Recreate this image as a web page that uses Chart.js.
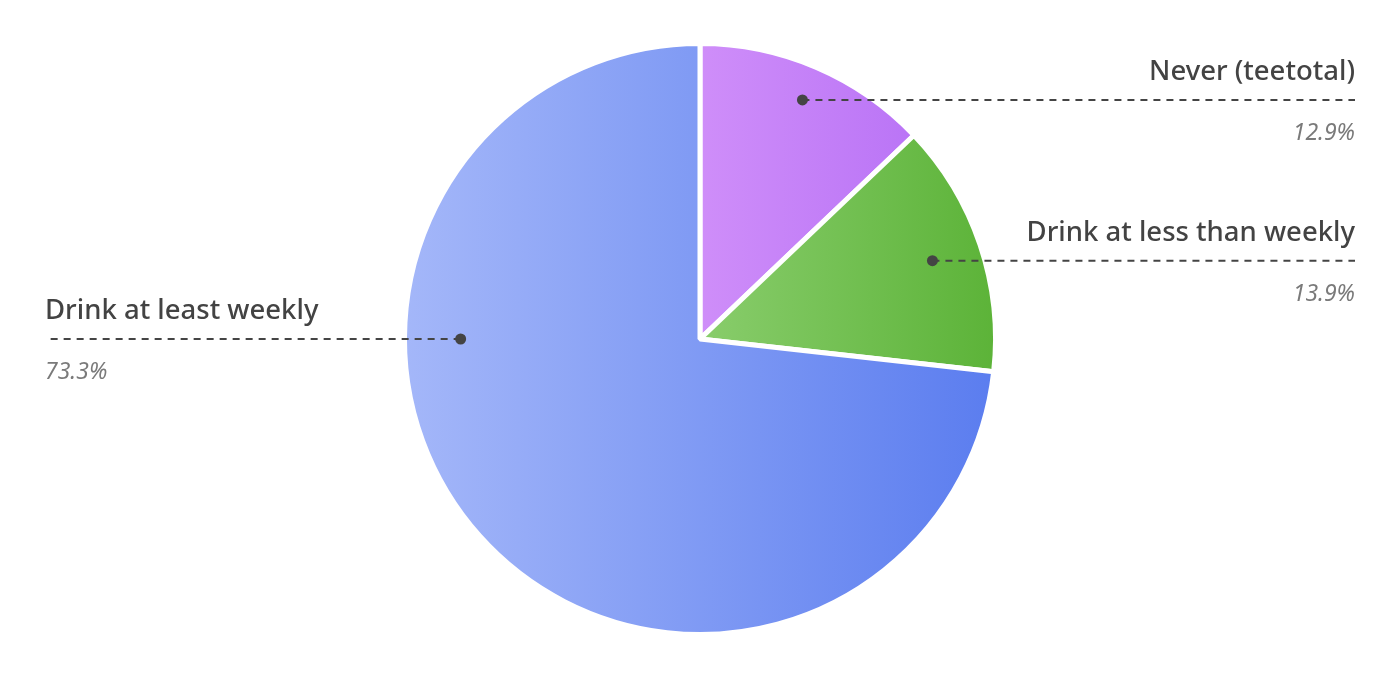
<!DOCTYPE html>
<html>
<head>
<meta charset="utf-8">
<script src="https://cdn.jsdelivr.net/npm/chart.js@4.4.1/dist/chart.umd.min.js"></script>
<style>
  html, body { margin: 0; padding: 0; background: #fff; }
  #wrap { width: 1400px; height: 680px; }
</style>
</head>
<body>
<div id="wrap"><canvas id="drinkChart" width="1400" height="680"></canvas></div>
<script>
// Drinking frequency pie
const categories = ['Never (teetotal)', 'Drink at less than weekly', 'Drink at least weekly'];
const shares = [12.9, 13.9, 73.3];
const shareLabels = ['12.9%', '13.9%', '73.3%'];

// left -> right gradient stops for each slice
const sliceColors = [
    ['#cf8ef9', '#ba74f6'],
    ['#89cd6c', '#5cb338'],
    ['#a4b7f9', '#5b7def']
];

// paint every slice with its own horizontal gradient, spanning the slice width
const sliceGradients = {
    id: 'sliceGradients',
    beforeDatasetDraw(chart, args) {
        const ctx = chart.ctx;
        args.meta.data.forEach(function(arc, i) {
            const p = arc.getProps(['x', 'startAngle', 'endAngle', 'outerRadius'], true);
            let minX = p.x, maxX = p.x;
            for (let k = 0; k <= 60; k++) {
                const a = p.startAngle + (p.endAngle - p.startAngle) * k / 60;
                const x = p.x + Math.cos(a) * p.outerRadius;
                minX = Math.min(minX, x);
                maxX = Math.max(maxX, x);
            }
            const g = ctx.createLinearGradient(minX, 0, maxX, 0);
            g.addColorStop(0, sliceColors[i][0]);
            g.addColorStop(1, sliceColors[i][1]);
            arc.options.backgroundColor = g;
        });
    }
};

// dashed leader lines with label above and italic share below
const leaderLabels = {
    id: 'leaderLabels',
    afterDatasetsDraw(chart, args, opts) {
        const ctx = chart.ctx;
        const meta = chart.getDatasetMeta(0);
        meta.data.forEach(function(arc, i) {
            const p = arc.getProps(['x', 'y', 'startAngle', 'endAngle', 'outerRadius'], true);
            let angle = (p.startAngle + p.endAngle) / 2;
            if (p.endAngle - p.startAngle > Math.PI) angle = Math.PI; // big slice: anchor on the left
            const r = p.outerRadius * opts.radiusFraction[i];
            const dx = p.x + Math.cos(angle) * r;
            const dy = p.y + Math.sin(angle) * r;
            const right = dx > p.x;
            const endX = right ? chart.width - opts.margin : opts.margin;

            ctx.save();
            ctx.strokeStyle = '#444';
            ctx.lineWidth = 2;
            ctx.setLineDash([7, 6]);
            ctx.beginPath();
            ctx.moveTo(dx, dy);
            ctx.lineTo(endX, dy);
            ctx.stroke();
            ctx.setLineDash([]);

            ctx.fillStyle = '#444';
            ctx.beginPath();
            ctx.arc(dx, dy, 5.5, 0, Math.PI * 2);
            ctx.fill();

            ctx.textAlign = right ? 'right' : 'left';
            ctx.textBaseline = 'alphabetic';
            ctx.fillStyle = '#434343';
            ctx.font = '500 27.5px "Noto Sans", "Open Sans", sans-serif';
            ctx.fillText(categories[i], endX, dy - 20);

            ctx.fillStyle = '#7a7a7a';
            ctx.font = 'italic 23px "Noto Sans", "Open Sans", sans-serif';
            ctx.fillText(shareLabels[i], endX, dy + 40);
            ctx.restore();
        });
    }
};

const drinkCtx = document.getElementById('drinkChart').getContext('2d');
const drinkChart = new Chart(drinkCtx, {
    type: 'pie',
    data: {
        labels: categories,
        datasets: [{
            data: shares,
            backgroundColor: sliceColors.map(function(c) { return c[0]; }),
            borderColor: '#ffffff',
            borderWidth: 5
        }]
    },
    options: {
        responsive: false,
        animation: false,
        layout: { padding: { top: 41, bottom: 43 } },
        plugins: {
            legend: { display: false },
            tooltip: { enabled: false },
            leaderLabels: { radiusFraction: [0.88, 0.83, 0.81], margin: 45 }
        }
    },
    plugins: [sliceGradients, leaderLabels]
});
</script>
</body>
</html>
